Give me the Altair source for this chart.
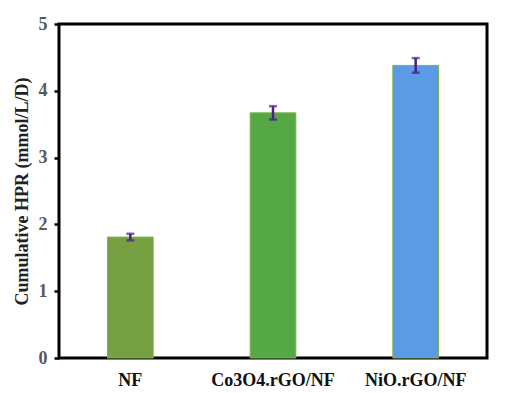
import altair as alt
import pandas as pd

categories = ["NF", "Co3O4.rGO/NF", "NiO.rGO/NF"]
values = [1.81, 3.67, 4.38]
errors = [0.05, 0.10, 0.11]
colors = ["#77A043", "#56A844", "#5B9BE6"]

df = pd.DataFrame({
    "cat": categories,
    "val": values,
    "lo": [v - e for v, e in zip(values, errors)],
    "hi": [v + e for v, e in zip(values, errors)],
    "color": colors,
})

FONT = "Liberation Serif, Times New Roman, serif"

x = alt.X("cat:N", sort=categories, title=None,
          scale=alt.Scale(paddingInner=0.68, paddingOuter=0.34),
          axis=alt.Axis(labelAngle=0, ticks=False, domain=False, labelFont=FONT,
                        labelFontSize=18, labelFontWeight="bold", labelColor="#111111",
                        labelPadding=13))

bars = alt.Chart(df).mark_bar(stroke="#7DB24A", strokeWidth=1).encode(
    x=x,
    y=alt.Y("val:Q", scale=alt.Scale(domain=[0, 5], nice=False),
            title="Cumulative HPR (mmol/L/D)",
            axis=alt.Axis(values=[0, 1, 2, 3, 4, 5], format="d", grid=False, domain=False,
                          tickColor="black", tickWidth=2.5, tickSize=5,
                          labelFont=FONT, labelFontSize=18, labelFontWeight="bold",
                          labelColor="#595959", labelPadding=7,
                          titleFont=FONT, titleFontSize=18, titleFontWeight="bold",
                          titleColor="#222222", titlePadding=7)),
    color=alt.Color("color:N", scale=None),
)

rules = alt.Chart(df).mark_rule(color="#4B1E8C", strokeWidth=2.5).encode(
    x=alt.X("cat:N", sort=categories),
    y="lo:Q", y2="hi:Q",
)
cap_lo = alt.Chart(df).mark_tick(color="#4B1E8C", size=8, thickness=2.5).encode(
    x=alt.X("cat:N", sort=categories), y="lo:Q")
cap_hi = alt.Chart(df).mark_tick(color="#4B1E8C", size=8, thickness=2.5).encode(
    x=alt.X("cat:N", sort=categories), y="hi:Q")

chart = alt.layer(bars, rules, cap_lo, cap_hi).properties(
    width=428, height=334,
    autosize=alt.AutoSizeParams(type="none"),
    padding={"left": 51, "top": 16, "right": 11, "bottom": 35},
    background="white",
).configure_view(stroke="black", strokeWidth=3)

chart.save("out.html", embed_options={"renderer": "svg", "actions": False})
